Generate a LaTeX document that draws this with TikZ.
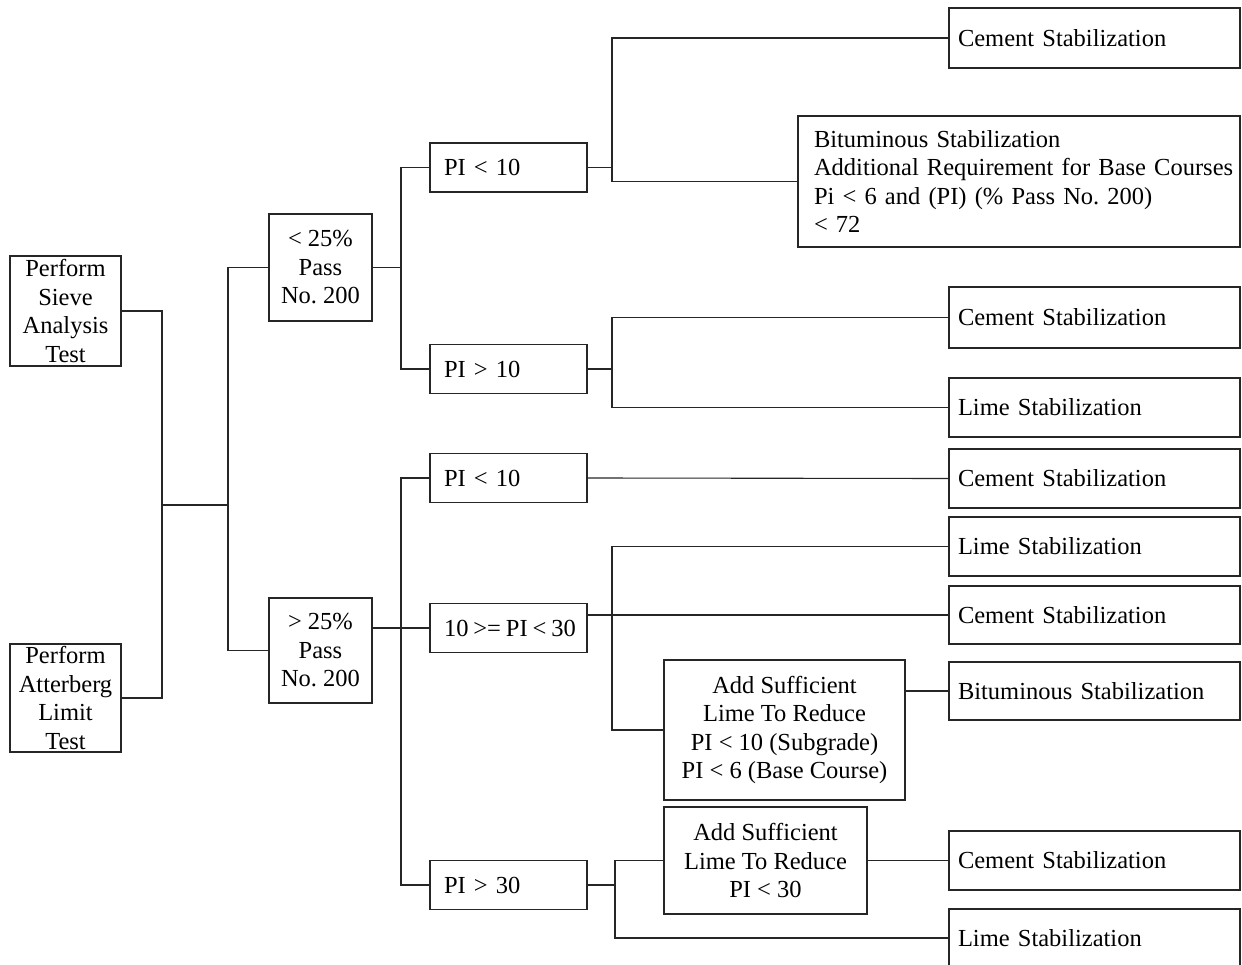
\documentclass[tikz,border=0pt]{standalone}
\usepackage{fontspec}
\setmainfont{Liberation Serif}
\frenchspacing
\begin{document}
\begin{tikzpicture}[x=1pt,y=-1pt,
  line width=1.1pt, draw=black!85,
  box/.style={draw=black!85, line width=1.1pt, rectangle, inner sep=0pt,
    font=\fontsize{24.5}{28.5}\selectfont\frenchspacing},
  cbox/.style={box, align=center},
  lbox/.style={box, align=left},
]
\useasboundingbox (0,0) rectangle (1242,965);
% left column
\node[cbox, minimum width=111pt, minimum height=110pt] (sieve) at (65.5,311) {Perform\\Sieve\\Analysis\\Test};
\node[cbox, minimum width=111pt, minimum height=108pt] (atter) at (65.5,698) {Perform\\Atterberg\\Limit\\Test};
% second column
\node[cbox, minimum width=103pt, minimum height=107pt] (lt25) at (320.5,267.5) {< 25\%\\Pass\\No. 200};
\node[cbox, minimum width=103pt, minimum height=105pt] (gt25) at (320.5,650.5) {> 25\%\\Pass\\No. 200};
% PI column
\tikzset{pibox/.style={lbox, minimum width=157pt, minimum height=49pt, text width=129pt, inner xsep=14pt}}
\node[pibox] (pi10a) at (508.5,167.5) {\mbox{PI < 10}};
\node[pibox] (pi10b) at (508.5,369) {\mbox{PI > 10}};
\node[pibox] (pi10c) at (508.5,478) {\mbox{PI < 10}};
\node[pibox] (pi1030) at (508.5,628) {\mbox{\spaceskip=0.2em plus 0.05em 10 >= PI < 30}};
\node[pibox] (pi30) at (508.5,885) {\mbox{PI > 30}};
% result column
\tikzset{rbox/.style={lbox, minimum width=291pt, text width=273pt, inner xsep=9pt}}
\node[rbox, minimum height=60pt] (cem1) at (1094.5,38) {Cement Stabilization};
\node[lbox, minimum width=442pt, minimum height=131pt, text width=410pt, inner xsep=16pt] (bit1) at (1019,181.5)
  {\mbox{Bituminous Stabilization}\\\mbox{Additional Requirement for Base Courses}\\\mbox{Pi < 6 and (PI) (\% Pass No. 200)}\\\mbox{< 72}};
\node[rbox, minimum height=61pt] (cem2) at (1094.5,317.5) {Cement Stabilization};
\node[rbox, minimum height=59pt] (lime2) at (1094.5,407.5) {Lime Stabilization};
\node[rbox, minimum height=59pt] (cem3) at (1094.5,478.5) {Cement Stabilization};
\node[rbox, minimum height=59pt] (lime3) at (1094.5,546.5) {Lime Stabilization};
\node[rbox, minimum height=58pt] (cem4) at (1094.5,615) {Cement Stabilization};
\node[cbox, minimum width=241pt, minimum height=140pt] (add1) at (784.5,730)
  {Add Sufficient\\Lime To Reduce\\PI < 10 (Subgrade)\\PI < 6 (Base Course)};
\node[rbox, minimum height=58pt] (bit2) at (1094.5,691) {Bituminous Stabilization};
\node[cbox, minimum width=203pt, minimum height=107pt] (add2) at (765.5,860.5)
  {Add Sufficient\\Lime To Reduce\\PI < 30};
\node[rbox, minimum height=59pt] (cem5) at (1094.5,860.5) {Cement Stabilization};
\node[rbox, minimum height=58pt] (lime5) at (1094.5,938) {Lime Stabilization};
% bus coordinates
\coordinate (b1) at (162,0);
\coordinate (mid) at (162,505);
\coordinate (b2) at (228,505);
\coordinate (c1) at (401,0);
\coordinate (d1) at (612,0);
\coordinate (e1) at (615,0);
% connectors
\draw (sieve.east) -| (b1 |- atter.east) -- (atter.east);
\draw (mid) -- (b2);
\draw (lt25.west) -| (b2) |- (gt25.west);
\draw (pi10a.west) -| (c1 |- pi10b.west) -- (pi10b.west);
\draw (lt25.east) -- (c1 |- lt25.east);
\draw (pi10c.west) -| (c1 |- pi30.west) -- (pi30.west);
\draw (gt25.east |- pi1030.west) -- (pi1030.west);
\draw (cem1.west) -| (d1 |- bit1.west) -- (bit1.west);
\draw (pi10a.east) -- (d1 |- pi10a.east);
\draw (cem2.west) -| (d1 |- lime2.west) -- (lime2.west);
\draw (pi10b.east) -- (d1 |- pi10b.east);
\draw (pi10c.east) -- (cem3.west);
\draw (lime3.west) -| (d1 |- add1.west) -- (add1.west);
\draw (pi1030.east |- cem4.west) -- (cem4.west);
\draw (add1.east |- bit2.west) -- (bit2.west);
\draw (add2.west) -| (e1 |- lime5.west) -- (lime5.west);
\draw (pi30.east) -- (e1 |- pi30.east);
\draw (add2.east) -- (cem5.west);
\end{tikzpicture}
\end{document}
